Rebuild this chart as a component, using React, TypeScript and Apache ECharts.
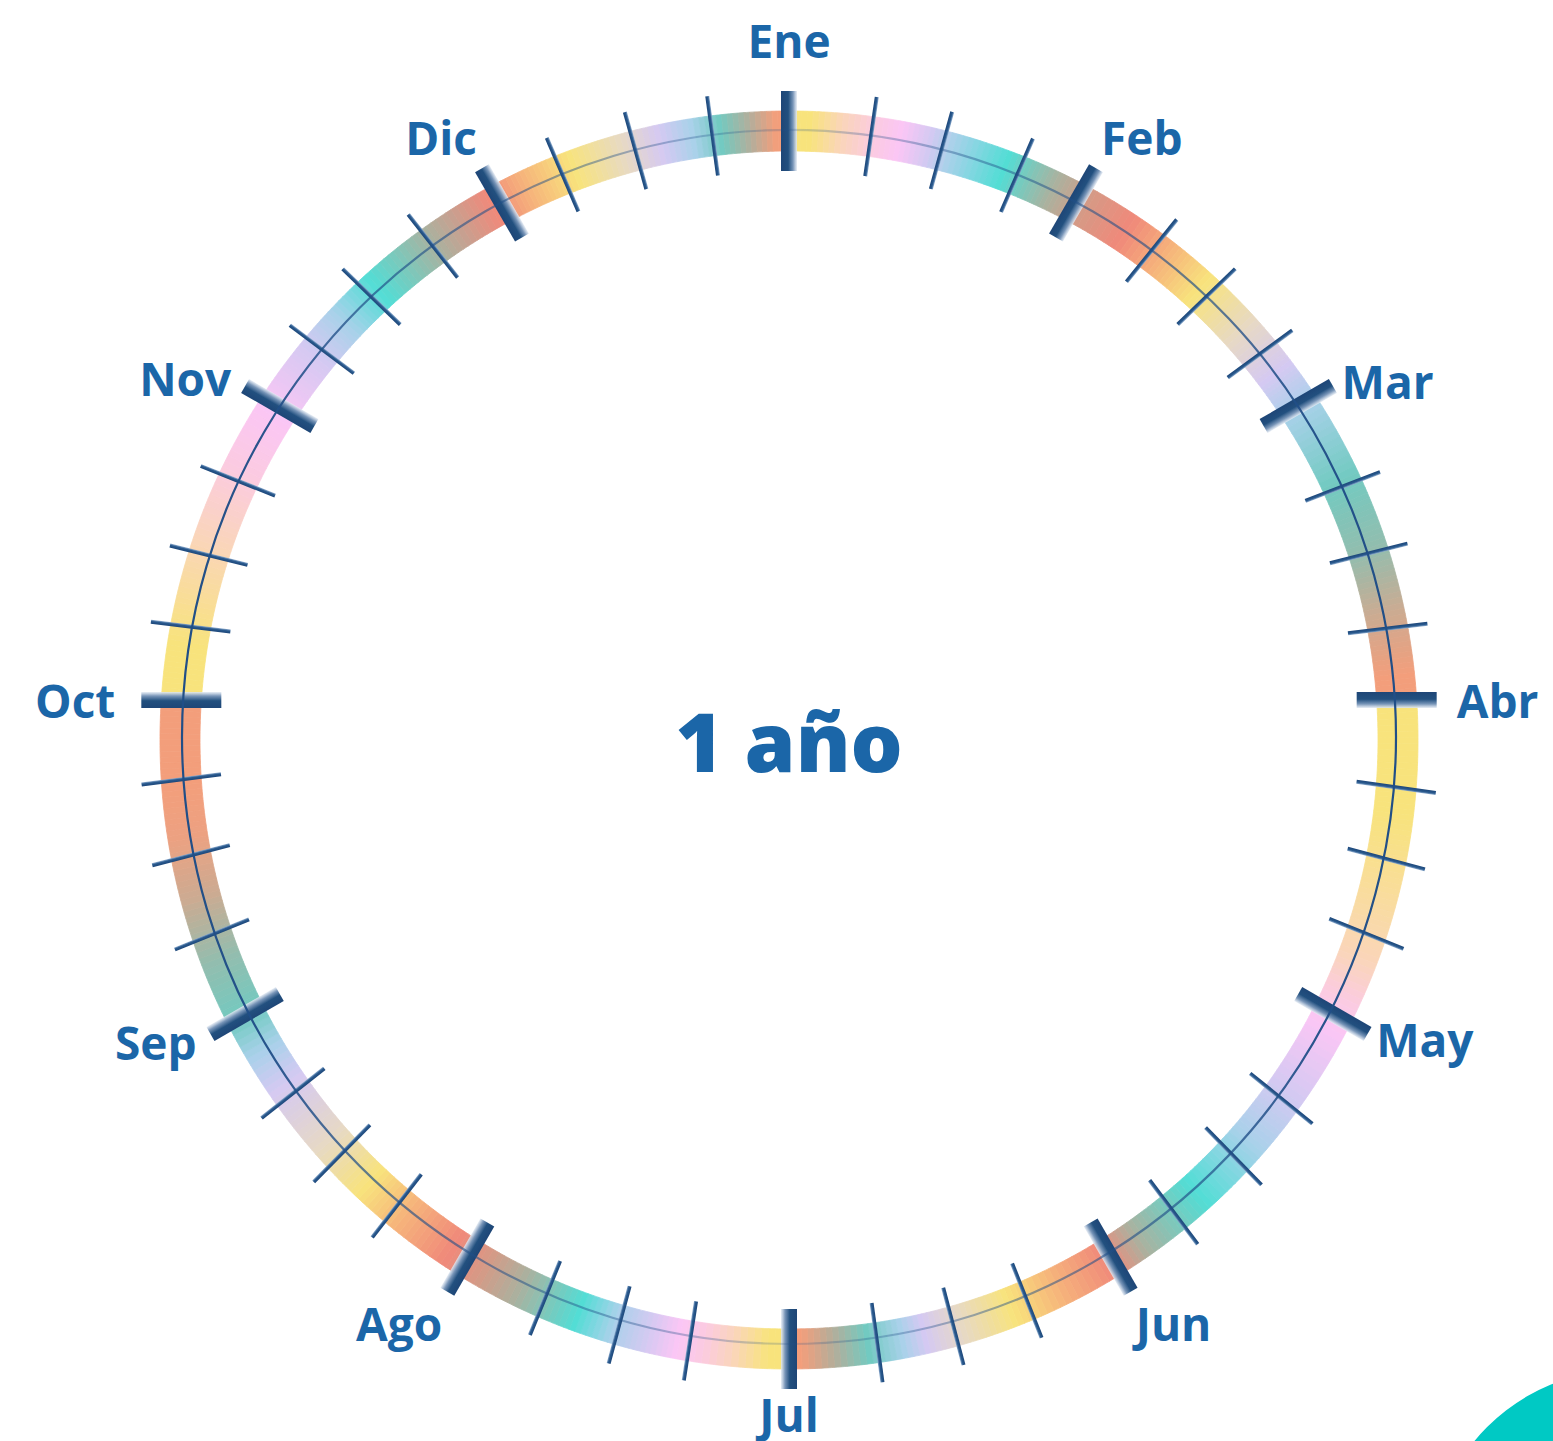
import React, { useEffect, useRef } from "react";
import * as echarts from "echarts";

// ---------- data ----------
const MONTHS = ["Ene", "Feb", "Mar", "Abr", "May", "Jun", "Jul", "Ago", "Sep", "Oct", "Nov", "Dic"];
// position of the three inner week marks of each month, as a fraction of that month
const WEEK_MARKS: number[][] = [
  [0.276, 0.517, 0.783], // Ene
  [0.297, 0.533, 0.79], // Feb
  [0.297, 0.527, 0.773], // Mar
  [0.273, 0.497, 0.735], // Abr
  [0.3, 0.525, 0.77], // May
  [0.28, 0.51, 0.74], // Jun
  [0.293, 0.507, 0.74], // Jul
  [0.26, 0.487, 0.72], // Ago
  [0.263, 0.515, 0.752], // Sep
  [0.233, 0.467, 0.723], // Oct
  [0.23, 0.467, 0.73], // Nov
  [0.223, 0.48, 0.743], // Dic
];
const CENTER_TEXT = "1 año";

// ---------- layout / style ----------
const W = 1553;
const H = 1441;
const RING_CENTER = [789, 740];
const TICK_CENTER = [789, 700];
const OFFSET = RING_CENTER[1] - TICK_CENTER[1];
const R_MID = 609;
const R_IN = 589;
const R_OUT = 629;
const LINE_R = 607;
const MONTH_DEG = 360 / MONTHS.length;
const TEXT_COLOR = "#1B66A8";
const FONT = "'Open Sans', 'Noto Sans', sans-serif";

const Y = "#F8E37C", YP = "#F9DC9E", P = "#FAD5BA", PK = "#FBCBE0", K = "#FBC6F5",
  L = "#D5C9F2", B = "#A9D1EA", C = "#52DDD5", T = "#72CAC1", TG = "#93BDAE",
  G = "#A9B2A0", G2 = "#B3AE9B", SG = "#D59A86", SR = "#F0897A", S = "#F39E7B",
  O = "#F6B47B", BE = "#E7D9C4", GS = "#CBAB92";

const RING_STOPS: [number, string][] = [
  [0, Y], [2, Y], [5, P], [8, PK], [10.5, K], [13.2, L], [15.4, B], [20.6, C], [25.5, G], [29, SG],
  [33.5, SR], [38, O], [42.3, Y], [48, BE], [53, L], [57, B], [64.8, T], [72, TG], [78, GS], [84, S], [86.2, S],
  [86.25, Y], [97, Y], [105, YP], [111, P], [115, PK], [118, K], [125, L], [131, B], [138, C], [145, G],
  [148.5, SR], [154, O], [158.7, Y], [163.6, BE], [167.2, L], [169.4, B], [172.6, T], [175.8, G2], [178.9, S], [180, S],
  [180.01, Y], [182, Y], [185.2, P], [188, PK], [190.5, K], [193.3, L], [196.7, B], [200.2, C], [206, G], [210, SG],
  [213.5, SR], [219, O], [223.5, Y], [228.9, BE], [235.7, L], [239.5, B], [243, T], [249, TG], [255, GS], [261, "#EDA181"],
  [266, S], [273.75, S],
  [273.8, Y], [279, Y], [289, P], [296, PK], [302.3, K], [309, L], [313.2, B], [317.7, C], [324.4, G], [331, SR],
  [334.7, O], [339.3, Y], [344.4, BE], [347.9, L], [351, B], [353.6, T], [356.4, G2], [358.8, S], [360, S],
];

function hexToRgb(h: string) {
  const n = parseInt(h.slice(1), 16);
  return [(n >> 16) & 255, (n >> 8) & 255, n & 255];
}
function colorAt(phi: number) {
  for (let i = 0; i < RING_STOPS.length - 1; i++) {
    const [a0, c0] = RING_STOPS[i];
    const [a1, c1] = RING_STOPS[i + 1];
    if (phi >= a0 && phi <= a1) {
      const f = a1 === a0 ? 0 : (phi - a0) / (a1 - a0);
      const x = hexToRgb(c0), y = hexToRgb(c1);
      const r = x.map((v, k) => Math.round(v + (y[k] - v) * f));
      return `rgb(${r[0]},${r[1]},${r[2]})`;
    }
  }
  return S;
}

const rad = (d: number) => (d * Math.PI) / 180;
// distance from the tick centre to the ring centre-line along angle th
function tickDist(th: number) {
  const s = Math.sin(rad(th)), c = Math.cos(rad(th));
  return -OFFSET * c + Math.sqrt(R_MID * R_MID - OFFSET * OFFSET * s * s);
}
// ring-centre angle of the point where the tick at th meets the ring
function ringAngle(th: number) {
  if (th >= 360) return 360;
  const t = tickDist(th);
  let a = (Math.atan2(t * Math.sin(rad(th)), OFFSET + t * Math.cos(rad(th))) * 180) / Math.PI;
  if (a < 0) a += 360;
  return a;
}
// angle-axis value of week boundary w (0..3) of month m
function weekAngle(m: number, w: number) {
  return (m + (w === 0 ? 0 : WEEK_MARKS[m][w - 1])) * MONTH_DEG;
}
function weekEnd(m: number, w: number) {
  return w < 3 ? weekAngle(m, w + 1) : (m + 1) * MONTH_DEG;
}
// gap between the ring line and a month label, by direction
function labelGap(s: number, c: number) {
  if (Math.abs(s) < 0.2) return c > 0 ? 68 : 42;
  let g = Math.abs(c) < 0.2 ? 60 : 50;
  if (s < -0.2 && Math.abs(c) < 0.7) g += 6;
  return g;
}

const WEEKS: [number, number][] = [];
MONTHS.forEach((_, m) => [0, 1, 2, 3].forEach((w) => WEEKS.push([m, w])));

const hiddenAxis = {
  axisLine: { show: false },
  axisTick: { show: false },
  axisLabel: { show: false },
  splitLine: { show: false },
  splitArea: { show: false },
};

export default function App() {
  const ref = useRef<HTMLDivElement>(null);
  useEffect(() => {
    if (!ref.current) return;
    const chart = echarts.init(ref.current, undefined, { renderer: "svg" });

    const ringSeries = {
      type: "custom",
      coordinateSystem: "polar",
      polarIndex: 0,
      silent: true,
      z: 1,
      data: WEEKS.map(([m, w]) => [R_MID, weekAngle(m, w)]),
      renderItem: (params: any, api: any) => {
        const [m, w] = WEEKS[params.dataIndex];
        const p0 = ringAngle(weekAngle(m, w));
        const p1 = ringAngle(weekEnd(m, w));
        const c = api.coord([0, 0]);
        const e = api.coord([R_MID, 90]);
        const scale = Math.hypot(e[0] - c[0], e[1] - c[1]) / R_MID;
        const N = 14;
        const children: any[] = [];
        for (let k = 0; k < N; k++) {
          const a = p0 + ((p1 - p0) * k) / N;
          const b = p0 + ((p1 - p0) * (k + 1)) / N;
          const col = colorAt((a + b) / 2);
          children.push({
            type: "sector",
            shape: {
              cx: c[0], cy: c[1], r0: R_IN * scale, r: R_OUT * scale,
              startAngle: rad(a - 90), endAngle: rad(b - 90), clockwise: true,
            },
            style: { fill: col, stroke: col, lineWidth: 0.8 },
          });
        }
        return { type: "group", children };
      },
    };

    const lineSeries = {
      type: "custom",
      coordinateSystem: "polar",
      polarIndex: 0,
      silent: true,
      z: 3,
      data: [[LINE_R, 0]],
      renderItem: (params: any, api: any) => {
        const c = api.coord([0, 0]);
        return {
          type: "circle",
          shape: { cx: c[0], cy: c[1] - 3, r: LINE_R },
          style: {
            fill: "none",
            lineWidth: 2.2,
            stroke: new echarts.graphic.LinearGradient(0, 0, 1, 0, [
              { offset: 0, color: "rgba(32,78,135,1)" },
              { offset: 0.07, color: "rgba(32,78,135,0.95)" },
              { offset: 0.15, color: "rgba(32,78,135,0.7)" },
              { offset: 0.33, color: "rgba(32,78,135,0.45)" },
              { offset: 0.5, color: "rgba(32,78,135,0.2)" },
              { offset: 0.67, color: "rgba(32,78,135,0.45)" },
              { offset: 0.85, color: "rgba(32,78,135,0.7)" },
              { offset: 0.93, color: "rgba(32,78,135,0.95)" },
              { offset: 1, color: "rgba(32,78,135,1)" },
            ]),
          },
        };
      },
    };

    const tickSeries = {
      type: "custom",
      coordinateSystem: "polar",
      polarIndex: 1,
      silent: true,
      z: 2,
      data: WEEKS.map(([m, w]) => [R_MID, weekAngle(m, w)]),
      renderItem: (params: any, api: any) => {
        const [m, w] = WEEKS[params.dataIndex];
        const th = weekAngle(m, w);
        const p = api.coord([tickDist(th), th]);
        const rot = -rad(th);
        if (w === 0) {
          return {
            type: "rect",
            x: p[0], y: p[1], rotation: rot,
            shape: { x: -8, y: -40, width: 16, height: 80 },
            style: {
              fill: new echarts.graphic.LinearGradient(0, 0, 1, 0, [
                { offset: 0, color: "#1E4677" },
                { offset: 0.45, color: "#22507F" },
                { offset: 0.75, color: "#7895B8" },
                { offset: 1, color: "rgba(228,235,244,0.85)" },
              ]),
            },
          };
        }
        return {
          type: "rect",
          x: p[0], y: p[1], rotation: rot,
          shape: { x: -2, y: -40, width: 4, height: 80 },
          style: {
            fill: new echarts.graphic.LinearGradient(0, 0, 1, 0, [
              { offset: 0, color: "#1D477A" },
              { offset: 0.6, color: "#2A5A8E" },
              { offset: 1, color: "#8AA8CB" },
            ]),
          },
        };
      },
    };

    const labelSeries = {
      type: "custom",
      coordinateSystem: "polar",
      polarIndex: 1,
      silent: true,
      z: 4,
      data: MONTHS.map((_, m) => [R_MID, m * MONTH_DEG]),
      renderItem: (params: any, api: any) => {
        const m = params.dataIndex;
        const th = m * MONTH_DEG;
        const s = Math.sin(rad(th)), c = Math.cos(rad(th));
        const p = api.coord([tickDist(th) + labelGap(s, c), th]);
        const align = s > 0.2 ? "left" : s < -0.2 ? "right" : "center";
        const verticalAlign = c > 0.6 ? "bottom" : c < -0.6 ? "top" : "middle";
        return {
          type: "text",
          x: p[0], y: p[1],
          style: {
            text: MONTHS[m],
            fill: TEXT_COLOR,
            fontSize: 46,
            fontWeight: "bold",
            fontFamily: FONT,
            align,
            verticalAlign,
          },
        };
      },
    };

    chart.setOption({
      animation: false,
      backgroundColor: "#ffffff",
      polar: [
        { center: RING_CENTER, radius: [0, 700] },
        { center: TICK_CENTER, radius: [0, 800] },
      ],
      radiusAxis: [
        { polarIndex: 0, type: "value", min: 0, max: 700, ...hiddenAxis },
        { polarIndex: 1, type: "value", min: 0, max: 800, ...hiddenAxis },
      ],
      angleAxis: [
        { polarIndex: 0, type: "value", min: 0, max: 360, startAngle: 90, clockwise: true, ...hiddenAxis },
        { polarIndex: 1, type: "value", min: 0, max: 360, startAngle: 90, clockwise: true, ...hiddenAxis },
      ],
      graphic: [
        {
          type: "circle",
          silent: true,
          shape: { cx: 1625, cy: 1565, r: 195 },
          style: { fill: "#00C9C4" },
        },
        {
          type: "text",
          silent: true,
          x: RING_CENTER[0],
          y: RING_CENTER[1],
          style: {
            text: CENTER_TEXT,
            fill: TEXT_COLOR,
            fontSize: 82,
            fontWeight: 800,
            fontFamily: FONT,
            align: "center",
            verticalAlign: "middle",
          },
        },
      ],
      series: [ringSeries, tickSeries, lineSeries, labelSeries],
    });
    return () => chart.dispose();
  }, []);
  return <div ref={ref} style={{ position: "fixed", left: 0, top: 0, width: W, height: H }} />;
}
